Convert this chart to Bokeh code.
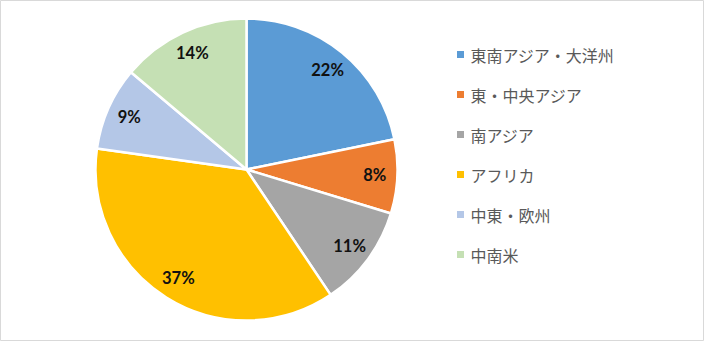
import math
from bokeh.plotting import figure
from bokeh.models import Range1d, ColumnDataSource
from bokeh.core.properties import value
from bokeh.embed import file_html
from bokeh.resources import INLINE

categories = ["東南アジア・大洋州", "東・中央アジア", "南アジア", "アフリカ", "中東・欧州", "中南米"]
shares = [22, 8, 11, 37, 9, 14]
colors = ["#5B9BD5", "#ED7D31", "#A5A5A5", "#FFC000", "#B4C7E7", "#C5E0B4"]

W, H = 704, 341
IMG_H = 357
p = figure(width=W, height=H, output_backend="svg", toolbar_location=None,
           x_range=Range1d(8, 8 + W), y_range=Range1d(IMG_H - 8 - H, IMG_H - 8),
           min_border=0, outline_line_color="#D9D9D9", outline_line_width=1)
p.axis.visible = False
p.grid.visible = False
p.background_fill_color = "white"

cx, cy = 254, IMG_H - 177
R = 151
total = sum(shares)
starts, ends, lx, ly, labels = [], [], [], [], []
cum = 0.0
for v in shares:
    a0 = math.pi / 2 - 2 * math.pi * cum / total
    cum += v
    a1 = math.pi / 2 - 2 * math.pi * cum / total
    starts.append(a0)
    ends.append(a1)
    mid = (a0 + a1) / 2
    lx.append(cx + 0.85 * R * math.cos(mid))
    ly.append(cy + 0.85 * R * math.sin(mid))
    labels.append(f"{v}%")

src = ColumnDataSource(dict(start=starts, end=ends, color=colors, lx=lx, ly=ly, label=labels))
p.wedge(x=cx, y=cy, radius=R, start_angle="start", end_angle="end", direction="clock",
        fill_color="color", line_color="white", line_width=2.5, source=src)
p.text(x="lx", y="ly", text="label", source=src, text_align="center", text_baseline="middle",
       text_font=value("Lato"), text_font_style="bold", text_font_size="16.5px", text_color="#111111")

# legend
leg_x = 468
leg_y0 = IMG_H - 62
step = 40
ys = [leg_y0 - i * step for i in range(len(categories))]
lsrc = ColumnDataSource(dict(x=[leg_x] * len(categories), tx=[leg_x + 10] * len(categories), y=ys,
                             color=colors, name=categories))
p.scatter(x="x", y="y", marker="square", size=7, fill_color="color", line_color=None, source=lsrc)
p.text(x="tx", y="y", text="name", source=lsrc, text_align="left", text_baseline="middle",
       text_font=value("Noto Sans CJK JP"), text_font_size="16px", text_color="#595959")

open("out.html", "w").write(file_html(p, INLINE))
